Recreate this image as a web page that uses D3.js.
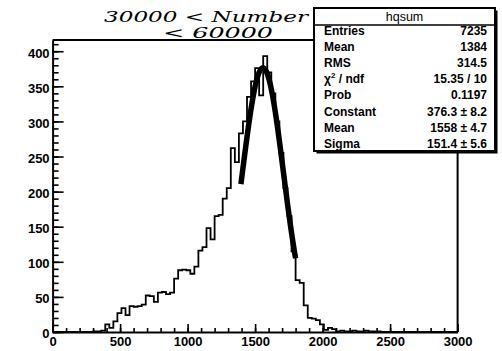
<!DOCTYPE html>
<html>
<head>
<meta charset="utf-8">
<script src="https://cdn.jsdelivr.net/npm/d3@7"></script>
<style>
  html, body { margin: 0; padding: 0; background: #fff; }
  svg { display: block; }
</style>
</head>
<body>
<svg id="chart" width="502" height="351"></svg>
<script>
// hqsum histogram: 100 bins of width 30 over [0, 3000]
const binLow = 0;
const binWidth = 30;
const counts = [
  0, 0, 0, 0, 0, 0, 0, 0, 0, 0,            // 0 - 300
  1, 1, 2, 11, 6, 15, 27, 34, 24, 37,      // 300 - 600
  36, 37, 39, 52, 51, 43, 56, 57, 54, 56,  // 600 - 900
  76, 88, 89, 88, 83, 93, 116, 121, 148, 132, // 900 - 1200
  165, 167, 190, 205, 262, 242, 283, 300, 335, 357, // 1200 - 1500
  376, 337, 393, 370, 340, 300, 255, 205, 165, 115, // 1500 - 1800
  74, 70, 38, 20, 19, 17, 11, 3, 6, 4,     // 1800 - 2100
  1, 2, 1, 1, 2, 1, 1, 2, 1, 1,            // 2100 - 2400
  1, 0, 0, 0, 0, 0, 0, 0, 0, 0,            // 2400 - 2700
  0, 0, 0, 0, 0, 0, 0, 0, 0, 0             // 2700 - 3000
];

// Gaussian fit parameters and fit range
const fitConstant = 376.3;
const fitMean = 1558;
const fitSigma = 151.4;
const fitRange = [1395, 1800];

// Axis ticks
const xMajorTicks = [0, 500, 1000, 1500, 2000, 2500, 3000];
const yMajorTicks = [0, 50, 100, 150, 200, 250, 300, 350, 400];

// Statistics box
const statsTitle = "hqsum";
const statsLabels = ["Entries", "Mean", "RMS", "χ² / ndf", "Prob", "Constant", "Mean", "Sigma"];
const statsValues = ["7235", "1384", "314.5", "15.35 / 10", "0.1197", "376.3 ± 8.2", "1558 ± 4.7", "151.4 ± 5.6"];

// Handwritten annotation
const noteLines = ["30000 < Number", "< 60000"];

const svg = d3.select("#chart");
const frameLeft = 52.6, frameRight = 457.6, frameTop = 40, frameBottom = 332;

const x = d3.scaleLinear().domain([0, 3000]).range([frameLeft, frameRight]);
const y = d3.scaleLinear().domain([0, 416]).range([frameBottom, frameTop]);

const labelFont = "'Liberation Sans', Arial, Helvetica, sans-serif";

// frame (top and right)
svg.append("path")
  .attr("d", `M${frameLeft},${frameTop}H${frameRight}V${frameBottom}`)
  .attr("fill", "none").attr("stroke", "#000").attr("stroke-width", 2);

// histogram outline
const steps = [];
counts.forEach((c, i) => {
  steps.push([binLow + i * binWidth, c]);
  steps.push([binLow + (i + 1) * binWidth, c]);
});
svg.append("path")
  .datum(steps)
  .attr("fill", "none")
  .attr("stroke", "#000")
  .attr("stroke-width", 1.8)
  .attr("stroke-linejoin", "miter")
  .attr("d", d3.line().x(d => x(d[0])).y(d => y(d[1])));

// Gaussian fit curve
const gauss = v => fitConstant * Math.exp(-0.5 * Math.pow((v - fitMean) / fitSigma, 2));
const fitPts = d3.range(fitRange[0], fitRange[1] + 0.1, 5).map(v => [v, gauss(v)]);
svg.append("path")
  .datum(fitPts)
  .attr("fill", "none")
  .attr("stroke", "#000")
  .attr("stroke-width", 5.5)
  .attr("stroke-linecap", "butt")
  .attr("d", d3.line().x(d => x(d[0])).y(d => y(d[1])));

// y axis: major + minor ticks pointing inward
const yAxis = svg.append("g").attr("transform", `translate(${frameLeft},0)`)
  .call(d3.axisLeft(y).tickValues(yMajorTicks).tickSize(-11).tickSizeOuter(0).tickPadding(3).tickFormat(d3.format("d")));
svg.append("g").attr("transform", `translate(${frameLeft},0)`)
  .call(d3.axisLeft(y).tickValues(d3.range(0, 411, 10)).tickSize(-6).tickSizeOuter(0).tickFormat(""))
  .call(g => g.select(".domain").remove());

// x axis: major + minor ticks pointing inward
const xAxis = svg.append("g").attr("transform", `translate(0,${frameBottom})`)
  .call(d3.axisBottom(x).tickValues(xMajorTicks).tickSize(-8).tickSizeOuter(0).tickPadding(3).tickFormat(d3.format("d")));
svg.append("g").attr("transform", `translate(0,${frameBottom})`)
  .call(d3.axisBottom(x).tickValues(d3.range(0, 3001, 100)).tickSize(-4).tickSizeOuter(0).tickFormat(""))
  .call(g => g.select(".domain").remove());

svg.selectAll(".tick line").attr("stroke", "#000").attr("stroke-width", 1.6);
svg.selectAll(".domain").attr("stroke", "#000").attr("stroke-width", 2);
svg.selectAll(".tick text")
  .attr("fill", "#000")
  .attr("font-family", labelFont)
  .attr("font-weight", "bold")
  .attr("font-size", 13);
yAxis.selectAll(".tick text").attr("dy", "0.45em");
xAxis.selectAll(".tick text").attr("dy", "0.85em");

// handwritten note above the frame
const note = svg.append("g")
  .attr("font-family", "'DejaVu Serif', serif")
  .attr("font-style", "italic")
  .attr("fill", "#000");
note.append("text").attr("x", 104).attr("y", 22).attr("font-size", 15)
  .attr("textLength", 204).attr("lengthAdjust", "spacingAndGlyphs").text(noteLines[0]);
note.append("text").attr("x", 163).attr("y", 38).attr("font-size", 14)
  .attr("textLength", 110).attr("lengthAdjust", "spacingAndGlyphs").text(noteLines[1]);

// statistics box with drop shadow
const bx = 314, by = 8, bw = 181, bh = 143;
svg.append("rect").attr("x", bx + 2.5).attr("y", by + 2.5).attr("width", bw).attr("height", bh).attr("fill", "#000");
svg.append("rect").attr("x", bx).attr("y", by).attr("width", bw).attr("height", bh)
  .attr("fill", "#fff").attr("stroke", "#000").attr("stroke-width", 2);
svg.append("line").attr("x1", bx).attr("x2", bx + bw).attr("y1", by + 17).attr("y2", by + 17)
  .attr("stroke", "#000").attr("stroke-width", 1.6);
svg.append("text").attr("x", bx + bw / 2).attr("y", by + 13).attr("text-anchor", "middle")
  .attr("font-family", labelFont).attr("font-size", 12.5).text(statsTitle);

const rows = svg.append("g").attr("font-family", labelFont).attr("font-size", 12).attr("font-weight", "bold");
statsLabels.forEach((lab, i) => {
  const yy = 35 + i * 16.1;
  const t = rows.append("text").attr("x", 324).attr("y", yy);
  if (lab.startsWith("χ")) {
    t.append("tspan").text("χ");
    t.append("tspan").attr("font-size", 8).attr("dy", -5).text("2");
    t.append("tspan").attr("dy", 5).text(" / ndf");
  } else {
    t.text(lab);
  }
  rows.append("text").attr("x", 487).attr("y", yy).attr("text-anchor", "end").text(statsValues[i]);
});
</script>
</body>
</html>
